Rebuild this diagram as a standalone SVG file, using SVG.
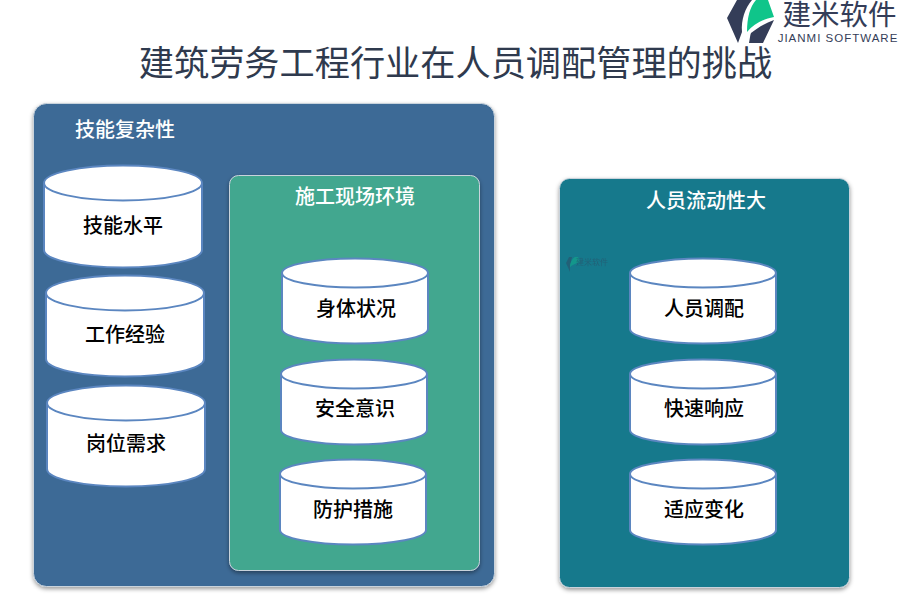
<svg xmlns="http://www.w3.org/2000/svg" width="900" height="600" viewBox="0 0 900 600">
<defs>
<filter id="sh" x="-5%" y="-5%" width="110%" height="110%"><feDropShadow dx="0" dy="2" stdDeviation="2" flood-color="#000" flood-opacity="0.4"/></filter>
</defs>
<style>
text{font-family:"Liberation Serif","Noto Sans CJK SC",serif}
.p{stroke:#c9d3dc;stroke-width:1;filter:url(#sh)}
.t{fill:#fff;font-size:20px;font-weight:500;text-anchor:middle}
.c{fill:#fff;stroke:#5b86c0;stroke-width:2}
.l{fill:#000;font-size:20px;font-weight:500;text-anchor:middle}
</style>
<rect width="900" height="600" fill="#fff"/>
<g id="logo">
<path d="M737 0H752C745 8 741 20 742 32L738 43L727 18Z" fill="#343d58"/>
<path d="M749 43C750 38 750 35 751 33C758 27 766 23 774 20L763 43Z" fill="#343d58"/>
<path d="M747 32C747 17 750 7 756 0H768L774 17C763 19 754 24 747 32Z" fill="#0fc58a"/>
<text x="839.500" y="25" font-size="28.500" fill="#343d58" text-anchor="middle" style="font-family:'Noto Sans CJK SC',sans-serif">建米软件</text>
<text x="838" y="42" font-size="11.500" fill="#343d58" text-anchor="middle" letter-spacing="1" style="font-family:'Liberation Sans',sans-serif">JIANMI SOFTWARE</text>
</g>
<text id="title" x="455.500" y="76" font-size="35.200" fill="#2f3a4e" text-anchor="middle">建筑劳务工程行业在人员调配管理的挑战</text>

<g id="panel-skills">
<rect class="p" x="33.500" y="103.500" width="461" height="483" rx="13" fill="#3d6a96"/>
<text class="t" x="125" y="137">技能复杂性</text>
</g>
<g id="panel-site">
<rect class="p" x="229.500" y="175.500" width="250" height="395" rx="9" fill="#43a78f"/>
<text class="t" x="355" y="204">施工现场环境</text>
</g>
<g id="panel-flow">
<rect class="p" x="559.500" y="178.500" width="290" height="409" rx="10" fill="#16798c"/>
<text class="t" x="706" y="208">人员流动性大</text>
<g id="watermark" opacity="0.4">
<path d="M566 263L569 257H572L570 266L570 272Z" fill="#343d58"/>
<path d="M570 267C570 262 573 258 575 257H578L580 262C576 263 572 265 570 267Z" fill="#0fc58a"/>
<text x="592" y="265" font-size="8" fill="#343d58" text-anchor="middle" style="font-family:'Noto Sans CJK SC',sans-serif">建米软件</text>
</g>
</g>

<g id="cyl-1"><path class="c" d="M44 183A79 17.500 0 0 1 202 183V250A79 17.500 0 0 1 44 250Z"/><path class="c" d="M44 183A79 17.500 0 0 0 202 183"/><text class="l" x="123" y="233">技能水平</text></g>
<g id="cyl-2"><path class="c" d="M46 293A79 17.500 0 0 1 204 293V359A79 17.500 0 0 1 46 359Z"/><path class="c" d="M46 293A79 17.500 0 0 0 204 293"/><text class="l" x="125" y="342">工作经验</text></g>
<g id="cyl-3"><path class="c" d="M47 403A79 17.500 0 0 1 205 403V469A79 17.500 0 0 1 47 469Z"/><path class="c" d="M47 403A79 17.500 0 0 0 205 403"/><text class="l" x="126" y="451">岗位需求</text></g>

<g id="cyl-4"><path class="c" d="M282 273A73 14.500 0 0 1 428 273V329A73 14.500 0 0 1 282 329Z"/><path class="c" d="M282 273A73 14.500 0 0 0 428 273"/><text class="l" x="356" y="316">身体状况</text></g>
<g id="cyl-5"><path class="c" d="M281 374A73 14.500 0 0 1 427 374V430A73 14.500 0 0 1 281 430Z"/><path class="c" d="M281 374A73 14.500 0 0 0 427 374"/><text class="l" x="355" y="416">安全意识</text></g>
<g id="cyl-6"><path class="c" d="M280 474A73 14.500 0 0 1 426 474V530A73 14.500 0 0 1 280 530Z"/><path class="c" d="M280 474A73 14.500 0 0 0 426 474"/><text class="l" x="353" y="517">防护措施</text></g>

<g id="cyl-7"><path class="c" d="M630 273A73 14.500 0 0 1 776 273V329A73 14.500 0 0 1 630 329Z"/><path class="c" d="M630 273A73 14.500 0 0 0 776 273"/><text class="l" x="704" y="316">人员调配</text></g>
<g id="cyl-8"><path class="c" d="M630 374A73 14.500 0 0 1 776 374V430A73 14.500 0 0 1 630 430Z"/><path class="c" d="M630 374A73 14.500 0 0 0 776 374"/><text class="l" x="704" y="416">快速响应</text></g>
<g id="cyl-9"><path class="c" d="M630 474A73 14.500 0 0 1 776 474V530A73 14.500 0 0 1 630 530Z"/><path class="c" d="M630 474A73 14.500 0 0 0 776 474"/><text class="l" x="704" y="517">适应变化</text></g>
<g id="connectors"/>
</svg>
